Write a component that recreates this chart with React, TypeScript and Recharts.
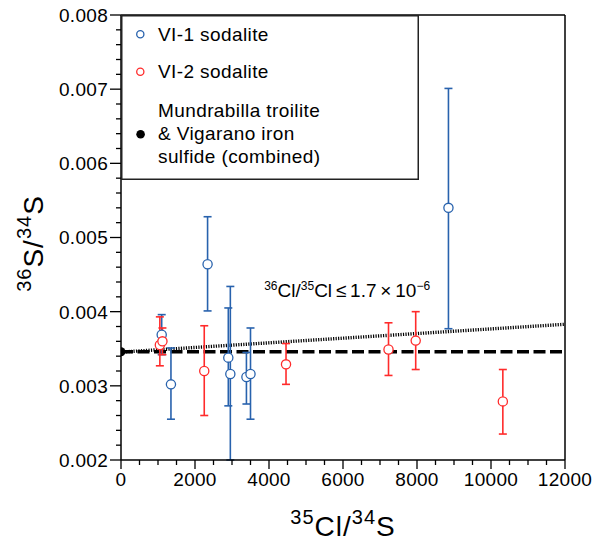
import React from "react";
import {
  ScatterChart,
  Scatter,
  XAxis,
  YAxis,
  ErrorBar,
  ReferenceLine,
  ReferenceDot,
  Legend,
} from "recharts";

// VI-1 sodalite (blue)
const vi1X = [1100, 1350, 2340, 2900, 2955, 3390, 3500, 8850];
const vi1Y = [0.00369, 0.00302, 0.00464, 0.00338, 0.00316, 0.00312, 0.00316, 0.0054];
const vi1Lo = [0.00342, 0.00255, 0.00401, 0.00273, 0.002, 0.002755, 0.00255, 0.00377];
const vi1Hi = [0.00396, 0.00351, 0.00528, 0.00405, 0.00434, 0.00345, 0.00378, 0.00701];

// VI-2 sodalite (red)
const vi2X = [1050, 1120, 2250, 4460, 7230, 7965, 10320];
const vi2Y = [0.00355, 0.0036, 0.0032, 0.00329, 0.00349, 0.00361, 0.00279];
const vi2Lo = [0.00327, 0.00342, 0.0026, 0.00302, 0.00314, 0.00322, 0.00235];
const vi2Hi = [0.00393, 0.00378, 0.00381, 0.00357, 0.00385, 0.004, 0.00322];

// Mundrabilla troilite & Vigarano iron sulfide (combined)
const refX = [0];
const refY = [0.00346];

// 36Cl/35Cl upper limit line
const limitX = [0, 12000];
const limitY = [0.003455, 0.00383];

const xTicks = [
  0, 500, 1000, 1500, 2000, 2500, 3000, 3500, 4000, 4500, 5000, 5500, 6000,
  6500, 7000, 7500, 8000, 8500, 9000, 9500, 10000, 10500, 11000, 11500, 12000,
];
const yTicks = [
  0.002, 0.0022, 0.0024, 0.0026, 0.0028, 0.003, 0.0032, 0.0034, 0.0036,
  0.0038, 0.004, 0.0042, 0.0044, 0.0046, 0.0048, 0.005, 0.0052, 0.0054,
  0.0056, 0.0058, 0.006, 0.0062, 0.0064, 0.0066, 0.0068, 0.007, 0.0072,
  0.0074, 0.0076, 0.0078, 0.008,
];

const BLUE = "#2862ad";
const RED = "#ff2b2b";
const FONT = "'Liberation Sans', Arial, Helvetica, sans-serif";

const rows = (xs: number[], ys: number[], lo: number[], hi: number[]) =>
  xs.map((x, i) => ({ x, y: ys[i], err: [ys[i] - lo[i], hi[i] - ys[i]] }));

const vi1Data = rows(vi1X, vi1Y, vi1Lo, vi1Hi);
const vi2Data = rows(vi2X, vi2Y, vi2Lo, vi2Hi);
const refData = refX.map((x, i) => ({ x, y: refY[i] }));

const XTick = (props: any) => {
  const { x, y, payload } = props;
  const v = payload.value;
  const major = v % 2000 === 0;
  return (
    <g>
      <line x1={x} x2={x} y1={y} y2={y + (major ? 9 : 5)} stroke="#000" strokeWidth={1.3} />
      {major && (
        <text x={x} y={y + 26} textAnchor="middle" fontSize={19} fill="#000" letterSpacing={0.3}>
          {v}
        </text>
      )}
    </g>
  );
};

const YTick = (props: any) => {
  const { x, y, payload } = props;
  const v = payload.value;
  const major = Math.abs(v * 1000 - Math.round(v * 1000)) < 1e-6;
  return (
    <g>
      <line x1={x} x2={x - (major ? 11 : 5)} y1={y} y2={y} stroke="#000" strokeWidth={1.3} />
      {major && (
        <text x={x - 13} y={y} dy="0.36em" textAnchor="end" fontSize={19} fill="#000" letterSpacing={0.3}>
          {v.toFixed(3)}
        </text>
      )}
    </g>
  );
};

const XTitle = (props: any) => {
  const { x, y, width } = props.viewBox;
  return (
    <text x={x + width / 2} y={y + 76} textAnchor="middle" fontSize={28} fill="#000" letterSpacing={1}>
      <tspan fontSize={20} dy={-12}>35</tspan>
      <tspan dy={12}>Cl/</tspan>
      <tspan fontSize={20} dy={-12}>34</tspan>
      <tspan dy={12}>S</tspan>
    </text>
  );
};

const YTitle = (props: any) => {
  const { y, height } = props.viewBox;
  return (
    <text
      transform={`translate(43, ${y + height / 2 + 6}) rotate(-90)`}
      textAnchor="middle"
      fontSize={28}
      fill="#000"
      letterSpacing={1}
    >
      <tspan fontSize={20} dy={-12}>36</tspan>
      <tspan dy={12}>S/</tspan>
      <tspan fontSize={20} dy={-12}>34</tspan>
      <tspan dy={12}>S</tspan>
    </text>
  );
};

const Annotation = (props: any) => {
  const { cx, cy } = props;
  return (
    <text x={cx} y={cy} fontSize={19} fill="#000">
      <tspan fontSize={12} dy={-7}>36</tspan>
      <tspan dy={7}>Cl/</tspan>
      <tspan fontSize={12} dy={-7}>35</tspan>
      <tspan dy={7}>{"Cl\u2009\u2264\u20091.7\u2009\u00d7\u200910"}</tspan>
      <tspan fontSize={12} dy={-7}>{"\u22126"}</tspan>
    </text>
  );
};

const LegendBox = () => (
  <svg width={298} height={165} style={{ display: "block", fontFamily: FONT }}>
    <rect x={0.75} y={0.75} width={296.5} height={163.5} fill="#fff" stroke="#222" strokeWidth={1.5} />
    <circle cx={19.3} cy={19.3} r={3.6} fill="#fff" stroke={BLUE} strokeWidth={1.3} />
    <text x={37} y={25.7} fontSize={19} letterSpacing={0.4} fill="#000">VI-1 sodalite</text>
    <circle cx={19.3} cy={56.7} r={3.6} fill="#fff" stroke={RED} strokeWidth={1.3} />
    <text x={37} y={63.3} fontSize={19} letterSpacing={0.4} fill="#000">VI-2 sodalite</text>
    <circle cx={19.6} cy={119.3} r={4.3} fill="#000" />
    <text x={37} y={101.7} fontSize={19} letterSpacing={0.4} fill="#000">Mundrabilla troilite</text>
    <text x={37} y={125} fontSize={19} letterSpacing={0.4} fill="#000">&amp; Vigarano iron</text>
    <text x={37} y={148.3} fontSize={19} letterSpacing={0.4} fill="#000">sulfide (combined)</text>
  </svg>
);

const openCircle = (color: string) => (p: any) =>
  <circle cx={p.cx} cy={p.cy} r={4.6} fill="#fff" stroke={color} strokeWidth={1.3} />;

const dot = (p: any) => <circle cx={p.cx} cy={p.cy} r={4.5} fill="#000" />;

export default function App() {
  return (
    <div style={{ position: "absolute", left: 0, top: 0, width: 600, height: 542, background: "#fff" }}>
      <ScatterChart
        width={600}
        height={542}
        margin={{ top: 15, right: 35, bottom: 0, left: 0 }}
        style={{ fontFamily: FONT }}
      >
        <XAxis
          type="number"
          dataKey="x"
          domain={[0, 12000]}
          ticks={xTicks}
          interval={0}
          height={82}
          tickSize={0}
          tickMargin={0}
          tickLine={false}
          tick={<XTick />}
          axisLine={{ stroke: "#000", strokeWidth: 1.5 }}
          allowDataOverflow
          label={{ content: XTitle }}
        />
        <YAxis
          type="number"
          dataKey="y"
          domain={[0.002, 0.008]}
          ticks={yTicks}
          interval={0}
          width={121}
          tickSize={0}
          tickMargin={0}
          tickLine={false}
          tick={<YTick />}
          axisLine={{ stroke: "#000", strokeWidth: 1.5 }}
          allowDataOverflow
          label={{ content: YTitle }}
        />
        <ReferenceLine y={0.008} stroke="#000" strokeWidth={1.5} />
        <ReferenceLine x={12000} stroke="#000" strokeWidth={1.5} />
        <ReferenceLine
          segment={[
            { x: limitX[0], y: limitY[0] },
            { x: limitX[1], y: limitY[1] },
          ]}
          stroke="#000"
          strokeWidth={3.4}
          strokeDasharray="1.2 1.3"
        />
        <ReferenceLine y={refY[0]} stroke="#000" strokeWidth={3.6} strokeDasharray="12 4.5" />
        <Scatter name="VI-1 sodalite" data={vi1Data} shape={openCircle(BLUE)} isAnimationActive={false}>
          <ErrorBar dataKey="err" direction="y" width={4} stroke={BLUE} strokeWidth={1.6} isAnimationActive={false} />
        </Scatter>
        <Scatter name="VI-2 sodalite" data={vi2Data} shape={openCircle(RED)} isAnimationActive={false}>
          <ErrorBar dataKey="err" direction="y" width={4} stroke={RED} strokeWidth={1.6} isAnimationActive={false} />
        </Scatter>
        <Scatter name="Mundrabilla" data={refData} shape={dot} isAnimationActive={false} />
        <ReferenceDot x={3870} y={0.0042} r={0} shape={Annotation} />
        <Legend
          layout="horizontal"
          verticalAlign="middle"
          align="center"
          content={<LegendBox />}
          wrapperStyle={{ position: "absolute", left: 121, top: 15, width: 298, height: 165 }}
        />
      </ScatterChart>
    </div>
  );
}
